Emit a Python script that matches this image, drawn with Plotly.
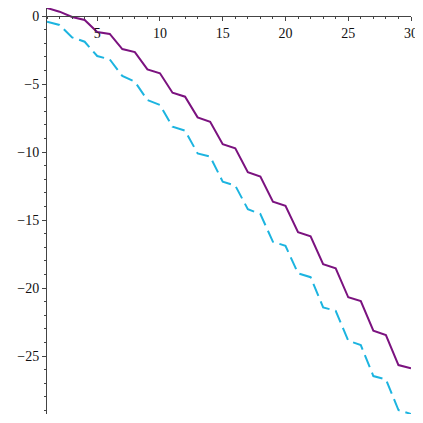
import plotly.graph_objects as go

x_vals = list(range(1, 31))
purple_vals = [0.59, 0.32, -0.07, -0.29, -1.18, -1.32, -2.43, -2.65, -3.92, -4.21,
               -5.64, -5.93, -7.45, -7.77, -9.43, -9.73, -11.49, -11.80, -13.65, -13.95,
               -15.90, -16.20, -18.24, -18.55, -20.68, -20.96, -23.14, -23.46, -25.66, -25.90]
cyan_vals = [-0.42, -0.66, -1.57, -1.89, -2.94, -3.19, -4.41, -4.83, -6.18, -6.54,
             -8.14, -8.43, -10.10, -10.34, -12.18, -12.47, -14.20, -14.56, -16.60, -16.90,
             -18.92, -19.20, -21.42, -21.67, -23.87, -24.19, -26.47, -26.71, -28.97, -29.26]
x_ticks = [5, 10, 15, 20, 25, 30]
y_ticks = [0, -5, -10, -15, -20, -25]

x_range = [1, 30]
y_range = [-29.26, 0.59]

fig = go.Figure()
fig.add_trace(go.Scatter(x=x_vals, y=purple_vals, mode="lines",
                         line=dict(color="#7b127f", width=2)))
fig.add_trace(go.Scatter(x=x_vals, y=cyan_vals, mode="lines",
                         line=dict(color="#1cb4e0", width=2, dash="13px,6px")))

font = dict(family="'Liberation Serif', 'Times New Roman', 'DejaVu Serif', serif",
            size=14, color="#111")
pos = (0 - y_range[0]) / (y_range[1] - y_range[0])

# page body has an 8px default margin; figure is sized to fit the 423px window
fig.update_layout(
    width=415, height=415,
    margin=dict(l=39, r=12, t=0, b=9),
    plot_bgcolor="white", paper_bgcolor="white",
    showlegend=False,
    xaxis=dict(range=x_range, anchor="free", position=pos, automargin=False,
               ticklabeloverflow="allow",
               tickvals=x_ticks, ticks="outside", ticklen=4, tickcolor="#444",
               showline=True, linecolor="#444", linewidth=1,
               showgrid=False, zeroline=False, tickfont=font,
               minor=dict(dtick=1, ticks="outside", ticklen=2, tickcolor="#444")),
    yaxis=dict(range=y_range, tickvals=y_ticks, ticks="outside", ticklen=4,
               automargin=False, ticklabeloverflow="allow",
               tickcolor="#444", showline=True, linecolor="#444", linewidth=1,
               showgrid=False, zeroline=False, tickfont=font,
               minor=dict(dtick=1, ticks="outside", ticklen=2, tickcolor="#444")),
)

fig.write_html("out.html")
